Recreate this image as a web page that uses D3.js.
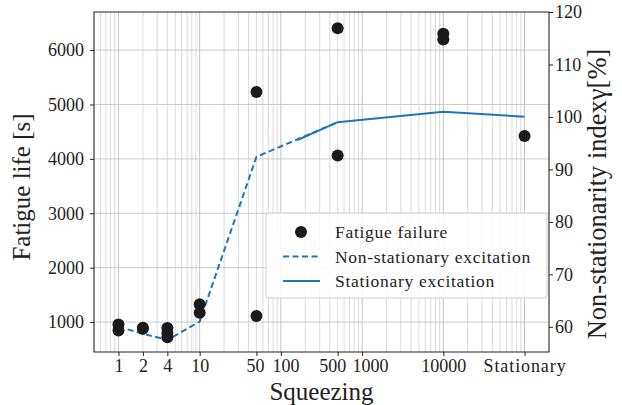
<!DOCTYPE html>
<html>
<head>
<meta charset="utf-8">
<title>Fatigue life vs squeezing</title>
<style>
  body { margin: 0; background: #fff; }
  text { font-family: "Liberation Serif", "Times New Roman", serif; fill: #222; }
</style>
</head>
<body>
<script src="https://cdn.jsdelivr.net/npm/d3@7"></script>
<script>
// squeezing values on the x axis ("Stationary" is drawn at 1e5)
var tickValues = [1, 2, 4, 10, 50, 100, 500, 1000, 10000, 100000];
var tickLabels = ["1", "2", "4", "10", "50", "100", "500", "1000", "10000", "Stationary"];

// fatigue failures (left axis, seconds)
var failX = [1, 1, 2, 2, 4, 4, 4, 10, 10, 50, 50, 500, 500, 10000, 10000, 100000];
var failY = [955, 845, 895, 875, 890, 800, 720, 1330, 1170, 5230, 1110, 6400, 4060, 6300, 6195, 4420];

// non-stationarity index (right axis, %)
var nonStatX = [1, 2, 4, 10, 50, 500];
var nonStatY = [60, 58.7, 57.5, 61, 92.4, 99.0];
var statX = [160, 500, 10000, 100000];
var statY = [95.6, 99.0, 101.0, 100.05];

var leftTicks = [1000, 2000, 3000, 4000, 5000, 6000];
var rightTicks = [60, 70, 80, 90, 100, 110, 120];

var W = 622, H = 405;
var margin = {top: 12, right: 73, bottom: 53, left: 94},
    width  = W - margin.left - margin.right,
    height = H - margin.top - margin.bottom;

var blue = "#1f77b4";
var serif = "'Liberation Serif', 'Times New Roman', serif";

var svg = d3.select("body").append("svg")
    .attr("width", W)
    .attr("height", H);

var chart = svg.append("g")
    .attr("transform", "translate(" + margin.left + "," + margin.top + ")");

var x = d3.scaleLog().domain([0.5, 200000]).range([0, width]);
var yL = d3.scaleLinear().domain([450, 6700]).range([height, 0]);
var yR = d3.scaleLinear().domain([55.2, 120]).range([height, 0]);

// log grid, minor + major
var minor = [], major = [];
for (var e = -1; e <= 5; e++) {
    for (var k = 1; k <= 9; k++) {
        var v = k * Math.pow(10, e);
        if (v < 0.5 || v > 200000) continue;
        if (k == 1) major.push(v); else minor.push(v);
    }
}
chart.selectAll(".minor").data(minor).enter().append("line")
    .attr("x1", function(d) { return x(d); })
    .attr("x2", function(d) { return x(d); })
    .attr("y1", 0).attr("y2", height)
    .style("stroke", "#d0d0d0").style("stroke-width", 0.8);
chart.selectAll(".major").data(major).enter().append("line")
    .attr("x1", function(d) { return x(d); })
    .attr("x2", function(d) { return x(d); })
    .attr("y1", 0).attr("y2", height)
    .style("stroke", "#bcbcbc").style("stroke-width", 0.9);
chart.selectAll(".hgrid").data(leftTicks).enter().append("line")
    .attr("x1", 0).attr("x2", width)
    .attr("y1", function(d) { return yL(d); })
    .attr("y2", function(d) { return yL(d); })
    .style("stroke", "#c6c6c6").style("stroke-width", 0.9);

// lines on the right axis
var line = d3.line()
    .x(function(d) { return x(d[0]); })
    .y(function(d) { return yR(d[1]); });

chart.append("path")
    .datum(d3.zip(nonStatX, nonStatY))
    .attr("d", line)
    .style("fill", "none")
    .style("stroke", blue)
    .style("stroke-width", 2)
    .style("stroke-dasharray", "6,3.5");

chart.append("path")
    .datum(d3.zip(statX, statY))
    .attr("d", line)
    .style("fill", "none")
    .style("stroke", blue)
    .style("stroke-width", 2);

// failures
chart.selectAll(".pt").data(d3.zip(failX, failY)).enter().append("circle")
    .attr("cx", function(d) { return x(d[0]); })
    .attr("cy", function(d) { return yL(d[1]); })
    .attr("r", 6)
    .style("fill", "#1a1a1a");

// axes
var fs = "18px";
// the reference spreads a few crowded labels sideways
var labelNudge = {50: -1.5, 100: 4.5, 500: -5.5, 1000: 8};

var xAxis = chart.append("g")
    .attr("transform", "translate(0," + height + ")")
    .call(d3.axisBottom(x).tickValues(tickValues)
        .tickFormat(function(d, i) { return tickLabels[i]; })
        .tickSizeInner(4).tickSizeOuter(0));
var yAxisL = chart.append("g")
    .call(d3.axisLeft(yL).tickValues(leftTicks).tickFormat(d3.format("d"))
        .tickSizeInner(4).tickSizeOuter(0).tickPadding(6));
var yAxisR = chart.append("g")
    .attr("transform", "translate(" + width + ",0)")
    .call(d3.axisRight(yR).tickValues(rightTicks).tickFormat(d3.format("d"))
        .tickSizeInner(4).tickSizeOuter(0).tickPadding(2));

[xAxis, yAxisL, yAxisR].forEach(function(a) {
    a.attr("font-family", serif).attr("font-size", 18);
    a.select(".domain").remove();
    a.selectAll("line").style("stroke", "#222");
    a.selectAll("text").style("font-size", fs)
        .style("font-family", serif).style("fill", "#222");
});
xAxis.selectAll("text")
    .attr("y", 20).attr("dy", 0)
    .attr("dx", function(d) { return labelNudge[d] || 0; });
xAxis.selectAll("text").filter(function(d, i) { return i == 9; })
    .style("letter-spacing", "0.9px");

// frame
chart.append("rect")
    .attr("width", width).attr("height", height)
    .style("fill", "none").style("stroke", "#222").style("stroke-width", 1);

// legend
var lg = chart.append("g").attr("transform", "translate(" + (266 - margin.left) + "," + (213 - margin.top) + ")");
lg.append("rect")
    .attr("width", 281).attr("height", 85).attr("rx", 3)
    .style("fill", "#fff").style("fill-opacity", 0.85)
    .style("stroke", "#d0d0d0");
var items = ["Fatigue failure", "Non-stationary excitation", "Stationary excitation"];
items.forEach(function(t, i) {
    var cy = 19 + i * 24.5;
    if (i == 0) {
        lg.append("circle").attr("cx", 35).attr("cy", cy).attr("r", 6).style("fill", "#1a1a1a");
    } else {
        lg.append("line").attr("x1", 17).attr("x2", 54).attr("y1", cy).attr("y2", cy)
            .style("stroke", blue).style("stroke-width", 2)
            .style("stroke-dasharray", i == 1 ? "6,3.5" : null);
    }
    lg.append("text").attr("x", 69).attr("y", cy + 6)
        .style("font-family", serif)
        .style("font-size", "17.5px").style("letter-spacing", "0.7px")
        .text(t);
});

// axis labels
svg.append("text")
    .attr("x", margin.left + width / 2).attr("y", 400)
    .attr("text-anchor", "middle")
    .style("font-family", serif)
    .style("font-size", "25px")
    .text("Squeezing");

svg.append("text")
    .attr("transform", "translate(30,187) rotate(-90)")
    .attr("text-anchor", "middle")
    .style("font-family", serif)
    .style("font-size", "25px")
    .text("Fatigue life [s]");

svg.append("text")
    .attr("transform", "translate(606,194) rotate(-90)")
    .attr("text-anchor", "middle")
    .style("font-family", serif)
    .style("font-size", "26.5px")
    .text("Non-stationarity index\u03b3[%]");
</script>
</body>
</html>
